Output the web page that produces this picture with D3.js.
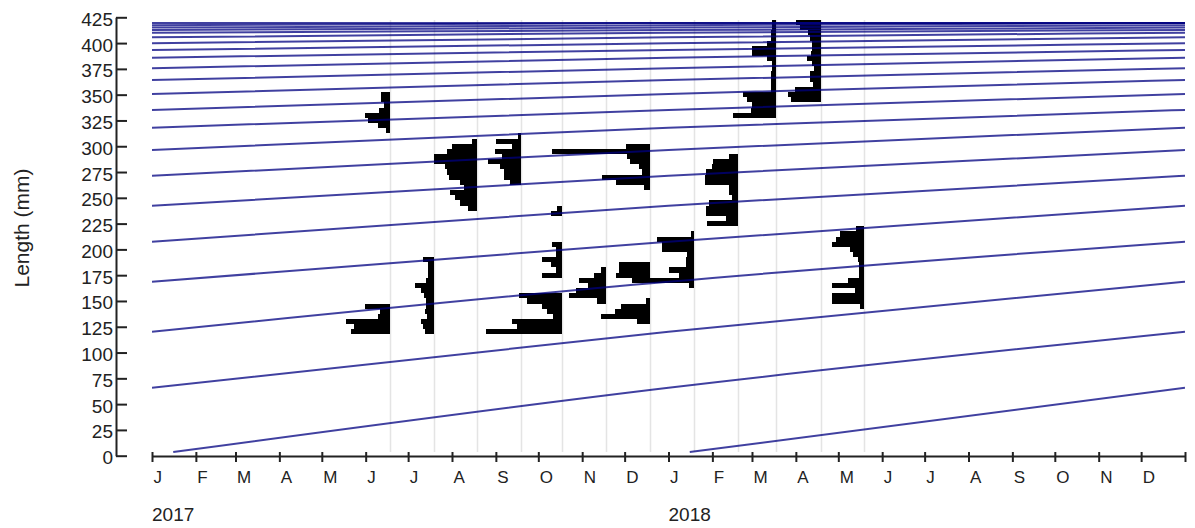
<!DOCTYPE html>
<html>
<head>
<meta charset="utf-8">
<script src="https://cdnjs.cloudflare.com/ajax/libs/d3/7.8.5/d3.min.js"></script>
<style>
body { margin: 0; background: #fff; }
svg text { font-family: "Liberation Sans", Arial, sans-serif; fill: #222; }
</style>
</head>
<body>
<svg id="chart" width="1195" height="528"></svg>
<script>
// sampling dates, one length-frequency sample each
var sampleDates = ["2017-06-18", "2017-07-19", "2017-08-19", "2017-09-19", "2017-10-18", "2017-11-18",
                   "2017-12-19", "2018-01-19", "2018-02-19", "2018-03-18", "2018-04-19", "2018-05-19"];

// frequencies per sample: [length class mid (mm), frequency]
var freqs = [
    [[350,9],[345,9],[340,6],[335,11],[330,25],[325,22],[320,12],[315,4],
     [145,25],[140,10],[135,12],[130,44],[125,36],[120,39]],
    [[190,11],[185,6],[180,6],[175,6],[170,8],[165,19],[160,13],[155,10],[150,8],[145,8],
     [140,9],[135,7],[130,13],[125,11],[120,9]],
    [[305,5],[300,25],[295,30],[290,43],[285,43],[280,32],[275,30],[270,28],[265,17],[260,13],
     [255,27],[250,22],[245,17],[240,9]],
    [[310,3],[305,25],[300,9],[295,26],[290,19],[285,33],[280,21],[275,17],[270,17],[265,11]],
    [[240,5],[235,11],
     [205,10],[200,6],[195,6],[190,20],[185,11],[180,6],[175,20],
     [155,43],[150,35],[145,20],[140,15],[135,9],[130,50],[125,45],[120,76]],
    [[180,5],[175,12],[170,27],[165,18],[160,30],[155,37],[150,9]],
    [[300,24],[295,98],[290,23],[285,20],[280,11],[275,8],[270,48],[265,34],[260,6],
     [185,31],[180,31],[175,34],[170,16],
     [150,4],[145,29],[140,35],[135,49],[130,13]],
    [[215,3],[210,37],[205,32],[200,32],[195,7],[190,8],[185,8],[180,25],[175,15],[170,62],[165,5]],
    [[290,9],[285,25],[280,26],[275,32],[270,33],[265,33],[260,9],[255,9],[250,6],[245,29],
     [240,32],[235,32],[230,12],[225,31]],
    [[420,4],[415,4],[410,5],[405,5],[400,9],[395,24],[390,24],[385,9],[380,4],[375,4],
     [370,5],[365,5],[360,5],[355,5],[350,33],[345,29],[340,24],[335,25],[330,43]],
    [[420,25],[415,21],[410,13],[405,11],[400,9],[395,9],[390,10],[385,14],[380,9],[375,7],
     [370,11],[365,11],[360,8],[355,26],[350,33],[345,30]],
    [[220,8],[215,24],[210,28],[205,32],[200,14],[195,11],[190,6],[185,5],[180,5],[175,5],
     [170,16],[165,32],[160,9],[155,32],[150,32],[145,4]]
];
var binWidth = 5;

// cohort length (mm) on 1 January, by age in years
var lengthAtAge = [65.9, 120.2, 168.7, 207.5, 242.4, 271.4, 296.4, 318, 335.2, 350.7, 364.2,
                   375.6, 385.9, 393.3, 399.8, 405.6, 410.1, 412.6, 415, 417.3, 419.4];
var yearStarts = ["2017-01-01", "2018-01-01", "2019-01-01"];
var birthDates = ["2017-01-16", "2018-01-16"];
var birthLength = 3.5;

var yTicks = [0, 25, 50, 75, 100, 125, 150, 175, 200, 225, 250, 275, 300, 325, 350, 375, 400, 425];
var monthLabels = ["J", "F", "M", "A", "M", "J", "J", "A", "S", "O", "N", "D"];
var yearLabels = ["2017", "2018"];

var parse = d3.utcParse("%Y-%m-%d");
var svg = d3.select("#chart");

var x = d3.scaleUtc()
    .domain([parse(yearStarts[0]), parse(yearStarts[2])])
    .range([152, 1185]);
var y = d3.scaleLinear().domain([0, 425]).range([455.7, 17.3]);
var w = d3.scaleLinear().domain([0, 100]).range([0, 100]);

svg.append("defs").append("clipPath").attr("id", "plot")
    .append("rect")
    .attr("x", 152).attr("y", 20)
    .attr("width", 1185 - 152).attr("height", 456 - 20);

var plot = svg.append("g").attr("clip-path", "url(#plot)");

// sample date lines
plot.selectAll("line.sample")
    .data(sampleDates)
    .enter().append("line")
    .attr("class", "sample")
    .attr("x1", function(d){ return Math.round(x(parse(d))) + 0.5; })
    .attr("x2", function(d){ return Math.round(x(parse(d))) + 0.5; })
    .attr("y1", 20)
    .attr("y2", 452)
    .attr("stroke", "#e4e4e4")
    .attr("stroke-width", 1.5);

// histograms, bars pointing left from the sample date
sampleDates.forEach(function(d, i){
    var x0 = x(parse(d));
    plot.append("g").selectAll("rect")
        .data(freqs[i])
        .enter().append("rect")
        .attr("x", function(b){ return x0 - w(b[1]); })
        .attr("width", function(b){ return w(b[1]); })
        .attr("y", function(b){ return y(b[0] + binWidth / 2); })
        .attr("height", function(b){ return y(b[0] - binWidth / 2) - y(b[0] + binWidth / 2); })
        .attr("fill", "black")
        .attr("shape-rendering", "crispEdges");
});

// growth curves: one per cohort, through its lengths on 1 January
var last = lengthAtAge.length - 1;
var curves = lengthAtAge.map(function(L, a){
    return yearStarts.map(function(ys, k){
        return [parse(ys), lengthAtAge[Math.min(a + k, last)]];
    });
});
birthDates.forEach(function(bd, k){
    var pts = [[parse(bd), birthLength]];
    for (var j = k + 1; j < yearStarts.length; j++)
        pts.push([parse(yearStarts[j]), lengthAtAge[j - k - 1]]);
    curves.push(pts);
});

var line = d3.line()
    .x(function(p){ return x(p[0]); })
    .y(function(p){ return y(p[1]); })
    .curve(d3.curveMonotoneX);

plot.selectAll("path.growth")
    .data(curves)
    .enter().append("path")
    .attr("class", "growth")
    .attr("d", line)
    .attr("fill", "none")
    .attr("stroke", "#000080")
    .attr("stroke-opacity", 0.75)
    .attr("stroke-width", 2);

// y axis
var yAxis = svg.append("g")
    .attr("transform", "translate(116,0)")
    .call(d3.axisLeft(y).tickValues(yTicks).tickSizeInner(-11).tickSizeOuter(0).tickPadding(3));
yAxis.select(".domain").attr("stroke", "#222").attr("stroke-width", 2);
yAxis.selectAll(".tick line").attr("stroke", "#222").attr("stroke-width", 2);
yAxis.selectAll(".tick text").attr("font-size", 19).attr("dy", "0.42em").attr("fill", "#222");

svg.append("text")
    .attr("transform", "translate(29,228) rotate(-90)")
    .attr("text-anchor", "middle")
    .attr("font-size", 21)
    .text("Length (mm)");

// x axis
var xAxis = svg.append("g")
    .attr("transform", "translate(0,456)")
    .call(d3.axisBottom(x)
        .ticks(d3.utcMonth.every(1))
        .tickSizeInner(6).tickSizeOuter(0).tickPadding(9)
        .tickFormat(function(d){
            return d >= x.domain()[1] ? "" : monthLabels[d.getUTCMonth()];
        }));
xAxis.select(".domain").attr("stroke", "#222").attr("stroke-width", 2);
xAxis.selectAll(".tick line").attr("y1", -4).attr("stroke", "#222").attr("stroke-width", 2);
xAxis.selectAll(".tick text")
    .attr("text-anchor", "start")
    .attr("x", 1)
    .attr("font-size", 17)
    .attr("fill", "#222");

svg.selectAll("text.year")
    .data(yearLabels)
    .enter().append("text")
    .attr("class", "year")
    .attr("x", function(d){ return x(parse(d + "-01-01")); })
    .attr("y", 521)
    .attr("font-size", 19)
    .text(function(d){ return d; });
</script>
</body>
</html>
